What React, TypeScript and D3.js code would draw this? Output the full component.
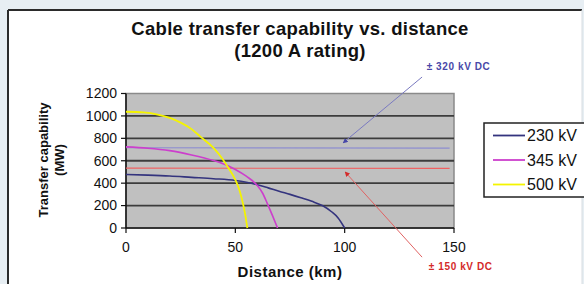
import { line, curveMonotoneX, scaleLinear } from 'd3';

const distanceTicks = [0, 50, 100, 150];
const capabilityTicks = [0, 200, 400, 600, 800, 1000, 1200];

const series230 = [
  [0, 478], [10, 472], [20, 464], [30, 452], [40, 440], [50, 424], [55, 408],
  [60, 386], [65, 358], [70, 328], [75, 300], [80, 270], [85, 238], [90, 198],
  [94, 145], [97, 90], [100, 0],
];
const series345 = [
  [0, 724], [10, 712], [20, 690], [30, 652], [40, 602], [45, 568], [50, 522],
  [55, 462], [60, 380], [62.5, 310], [64.6, 220], [67, 110], [69.3, 0],
];
const series500 = [
  [0, 1037], [8, 1032], [15, 1010], [20, 982], [25, 940], [30, 882], [34, 815],
  [40, 715], [44, 620], [47, 530], [50, 430], [52, 330], [53.7, 200], [54.7, 100], [55.5, 0],
];
const dc320 = [[0, 716], [148, 712]];
const dc150 = [[0, 534], [148, 532]];

const legendItems = [
  { label: '230 kV', color: '#34347e' },
  { label: '345 kV', color: '#cc3fcc' },
  { label: '500 kV', color: '#f4f400' },
];

// arrow annotations in data units: tail -> tip, plus label anchor
const annotations = [
  { label: '\u00b1 320 kV DC', color: '#4848a8', lineColor: '#7a7ac0', tail: [135.4, 1347], tip: [99.3, 760], text: [137.5, 1445] },
  { label: '\u00b1 150 kV DC', color: '#d42a2a', lineColor: '#e06262', tail: [135.4, -260], tip: [100.2, 500], text: [138.5, -340] },
];

const W = 584;
const H = 284;
const FONT = '"Liberation Sans", Arial, sans-serif';

export default function App() {
  const x = scaleLinear().domain([0, 150]).range([126, 454]);
  const y = scaleLinear().domain([0, 1200]).range([228, 93.5]);
  const curve = line<number[]>()
    .x((d) => x(d[0]))
    .y((d) => y(d[1]))
    .curve(curveMonotoneX);
  const straight = line<number[]>()
    .x((d) => x(d[0]))
    .y((d) => y(d[1]));

  const [x0, x1] = x.range();
  const [y0, y1] = y.range();

  return (
    <svg width={W} height={H} style={{ position: 'absolute', left: 0, top: 0 }} fontFamily={FONT}>
      <defs>
        {annotations.map((a, i) => (
          <marker key={i} id={`arrow${i}`} viewBox="0 0 10 10" refX="9" refY="5" markerWidth="5" markerHeight="5" orient="auto">
            <path d="M0,0 L10,5 L0,10 z" fill={a.color} />
          </marker>
        ))}
      </defs>
      <rect width={W} height={H} fill="#e7eef3" />
      <rect x={8} y={10} width={574} height={H} fill="#ffffff" />
      <line x1={8} x2={8} y1={10} y2={H} stroke="#2b2b2b" strokeWidth={2} />
      <line x1={8} x2={582} y1={10} y2={10} stroke="#2b2b2b" strokeWidth={2} />
      <line x1={582} x2={582} y1={10} y2={H} stroke="#d8dde2" strokeWidth={1} />

      <text x={300} y={35} textAnchor="middle" fontSize={18.5} fontWeight="bold" letterSpacing={0.3} fill="#111">
        Cable transfer capability vs. distance
      </text>
      <text x={300} y={57} textAnchor="middle" fontSize={18.5} fontWeight="bold" letterSpacing={0.3} fill="#111">
        (1200 A rating)
      </text>

      {/* plot area */}
      <rect x={x0} y={y1} width={x1 - x0} height={y0 - y1} fill="#c0c0c0" stroke="#8a8a8a" strokeWidth={1.5} />
      {capabilityTicks.slice(1, -1).map((t) => (
        <line key={t} x1={x0} x2={x1} y1={y(t)} y2={y(t)} stroke="#3c3c3c" strokeWidth={1.8} />
      ))}

      {/* axes */}
      <line x1={x0} x2={x0} y1={y1} y2={y0} stroke="#111" strokeWidth={1.5} />
      <line x1={x0} x2={x1} y1={y0} y2={y0} stroke="#111" strokeWidth={1.5} />
      {capabilityTicks.map((t) => (
        <g key={t}>
          <line x1={x0 - 5} x2={x0} y1={y(t)} y2={y(t)} stroke="#111" strokeWidth={1.2} />
          <text x={117} y={y(t)} dy="0.35em" textAnchor="end" fontSize={14} fill="#111">
            {t}
          </text>
        </g>
      ))}
      {distanceTicks.map((t) => (
        <g key={t}>
          <line x1={x(t)} x2={x(t)} y1={y0} y2={y0 + 5} stroke="#111" strokeWidth={1.2} />
          <text x={x(t)} y={252} textAnchor="middle" fontSize={14} fill="#111">
            {t}
          </text>
        </g>
      ))}
      <text x={290} y={277} textAnchor="middle" fontSize={15} fontWeight="bold" letterSpacing={0.5} fill="#111">
        Distance (km)
      </text>
      <text transform="translate(48 160) rotate(-90)" textAnchor="middle" fontSize={13} fontWeight="bold" fill="#111">
        Transfer capability
      </text>
      <text transform="translate(64 160) rotate(-90)" textAnchor="middle" fontSize={13} fontWeight="bold" fill="#111">
        (MW)
      </text>

      {/* DC reference lines */}
      <path d={straight(dc320) ?? ''} fill="none" stroke="#8e8ed0" strokeWidth={1.2} />
      <path d={straight(dc150) ?? ''} fill="none" stroke="#f06060" strokeWidth={1.2} />

      {/* AC series */}
      <path d={curve(series230) ?? ''} fill="none" stroke={legendItems[0].color} strokeWidth={1.6} />
      <path d={curve(series345) ?? ''} fill="none" stroke={legendItems[1].color} strokeWidth={1.6} />
      <path d={curve(series500) ?? ''} fill="none" stroke={legendItems[2].color} strokeWidth={1.8} />

      {/* annotations */}
      {annotations.map((a, i) => (
        <g key={a.label}>
          <line
            x1={x(a.tail[0])}
            y1={y(a.tail[1])}
            x2={x(a.tip[0])}
            y2={y(a.tip[1])}
            stroke={a.lineColor}
            strokeWidth={1}
            markerEnd={`url(#arrow${i})`}
          />
          <text x={x(a.text[0])} y={y(a.text[1])} dy="0.35em" fontSize={10} fontWeight="bold" letterSpacing={0.6} fill={a.color}>
            {a.label}
          </text>
        </g>
      ))}

      {/* legend */}
      <rect x={484} y={123} width={110} height={74} fill="#fff" stroke="#222" strokeWidth={1.5} />
      {legendItems.map((item, i) => (
        <g key={item.label} transform={`translate(0 ${135.5 + i * 24.5})`}>
          <line x1={493} x2={525} y1={0} y2={0} stroke={item.color} strokeWidth={1.8} />
          <text x={527} y={0} dy="0.35em" fontSize={16} fill="#111">
            {item.label}
          </text>
        </g>
      ))}
    </svg>
  );
}
